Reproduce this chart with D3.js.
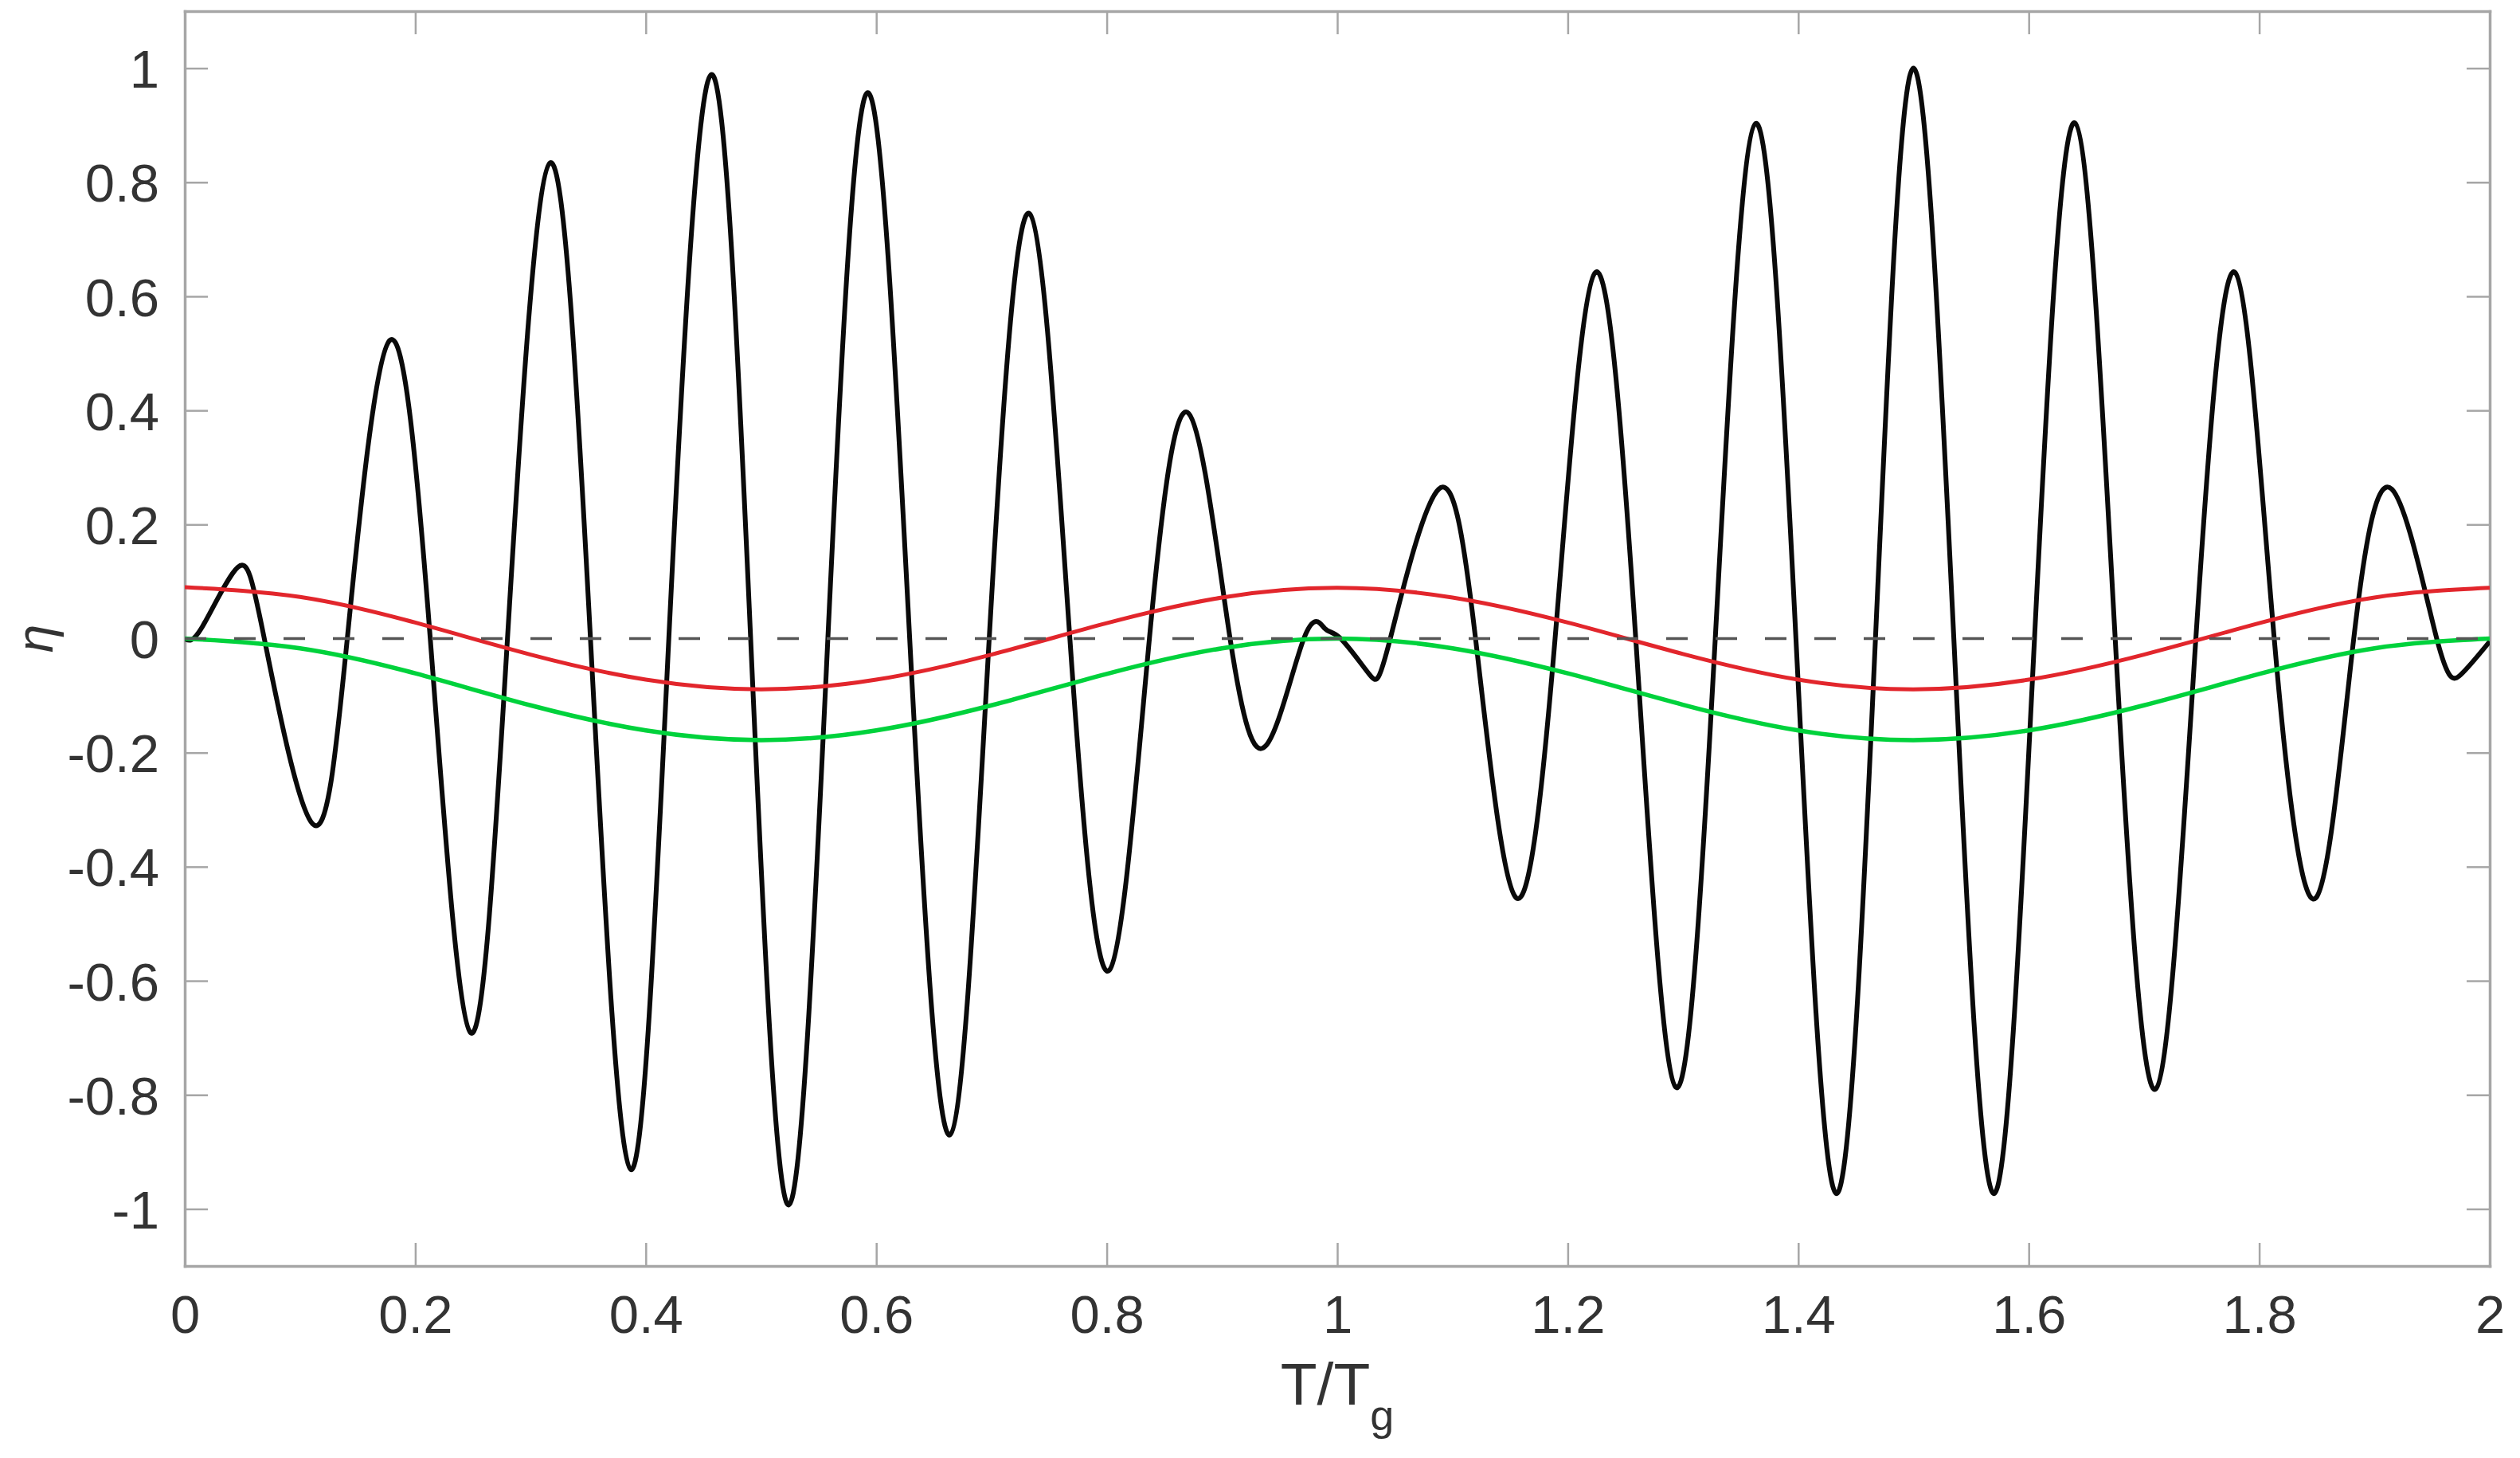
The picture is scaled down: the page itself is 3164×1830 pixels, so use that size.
<!DOCTYPE html>
<html>
<head>
<meta charset="utf-8">
<script src="https://cdn.jsdelivr.net/npm/d3@7"></script>
<style>
  html, body { margin: 0; padding: 0; background: #ffffff; }
  text { font-family: "Liberation Sans", Arial, Helvetica, sans-serif; }
</style>
</head>
<body>
<svg id="chart" width="3164" height="1830"></svg>
<script>
// ---------------- data ----------------
const xTicks = [0, 0.2, 0.4, 0.6, 0.8, 1, 1.2, 1.4, 1.6, 1.8, 2];
const yTicks = [-1, -0.8, -0.6, -0.4, -0.2, 0, 0.2, 0.4, 0.6, 0.8, 1];

// black curve: extrema and zero crossings (T/Tg, eta)
const blackT = [0, 0.015, 0.046, 0.069, 0.111, 0.141, 0.178, 0.213, 0.248, 0.280,
  0.317, 0.352, 0.387, 0.420, 0.457, 0.491, 0.524, 0.558, 0.593, 0.629,
  0.664, 0.698, 0.733, 0.768, 0.802, 0.837, 0.871, 0.907, 0.938, 0.971,
  0.989, 1.003, 1.028, 1.046, 1.088, 1.120, 1.155, 1.189, 1.224, 1.259,
  1.294, 1.328, 1.363, 1.398, 1.433, 1.467, 1.500, 1.535, 1.570, 1.605,
  1.640, 1.675, 1.710, 1.745, 1.779, 1.813, 1.849, 1.882, 1.915, 1.954,
  1.975, 2.0];
const blackEta = [0, 0.02, 0.125, 0, -0.325, 0, 0.523, 0, -0.691, 0,
  0.834, 0, -0.931, 0, 0.989, 0, -0.993, 0, 0.957, 0,
  -0.870, 0, 0.745, 0, -0.582, 0, 0.395, 0, -0.188, 0,
  0.018, 0, -0.063, 0, 0.262, 0, -0.454, 0, 0.642, 0,
  -0.787, 0, 0.903, 0, -0.973, 0, 1.0, 0, -0.973, 0,
  0.904, 0, -0.790, 0, 0.642, 0, -0.455, 0, 0.262, 0,
  -0.063, -0.005];

// red and green curves, read every 0.1
const envT = [0, 0.1, 0.2, 0.3, 0.4, 0.5, 0.6, 0.7, 0.8, 0.9, 1.0,
  1.1, 1.2, 1.3, 1.4, 1.5, 1.6, 1.7, 1.8, 1.9, 2.0];
const redEta = [0.090, 0.073, 0.028, -0.028, -0.072, -0.089, -0.072, -0.028, 0.027, 0.072, 0.089,
  0.072, 0.028, -0.027, -0.072, -0.089, -0.072, -0.028, 0.027, 0.072, 0.089];
const greenEta = [0, -0.017, -0.061, -0.117, -0.161, -0.178, -0.161, -0.117, -0.062, -0.017, 0,
  -0.017, -0.061, -0.116, -0.161, -0.178, -0.161, -0.117, -0.062, -0.017, 0];

const zeroT = [0, 2];
const zeroEta = [0, 0];

// ---------------- layout ----------------
const W = 3164, H = 1830;
const L = 232, R = 3126, T = 14, B = 1589;
const tickLen = 29;
const axisColor = "#a6a6a6";
const labelColor = "#333333";
const tickFont = 67;

const x = d3.scaleLinear().domain([0, 2]).range([L, R]);
const y = d3.scaleLinear().domain([-1.1, 1.1]).range([B, T]);

const svg = d3.select("#chart");
svg.append("rect").attr("width", W).attr("height", H).attr("fill", "#ffffff");

const fmt = d => String(+(+d).toFixed(1));

function styleAxis(g, withText) {
  g.select(".domain").attr("stroke", axisColor).attr("stroke-width", 3.5)
    .attr("stroke-linecap", "square");
  g.selectAll(".tick line").attr("stroke", axisColor).attr("stroke-width", 2.5);
  g.selectAll(".tick text")
    .attr("fill", labelColor)
    .attr("font-size", tickFont)
    .attr("font-family", '"Liberation Sans", Arial, Helvetica, sans-serif');
  if (!withText) g.selectAll(".tick text").remove();
}

// bottom
const gB = svg.append("g").attr("transform", `translate(0,${B})`)
  .call(d3.axisBottom(x).tickValues(xTicks).tickSizeInner(-tickLen).tickSizeOuter(0)
    .tickPadding(36).tickFormat(fmt));
styleAxis(gB, true);
gB.selectAll(".tick text").attr("dy", "0.71em");

// top
const gT = svg.append("g").attr("transform", `translate(0,${T})`)
  .call(d3.axisTop(x).tickValues(xTicks).tickSizeInner(-tickLen).tickSizeOuter(0).tickFormat(""));
styleAxis(gT, false);

// left
const gL = svg.append("g").attr("transform", `translate(${L},0)`)
  .call(d3.axisLeft(y).tickValues(yTicks).tickSizeInner(-tickLen).tickSizeOuter(0)
    .tickPadding(32).tickFormat(fmt));
styleAxis(gL, true);
gL.selectAll(".tick text").attr("dy", "0.36em");

// right
const gR = svg.append("g").attr("transform", `translate(${R},0)`)
  .call(d3.axisRight(y).tickValues(yTicks).tickSizeInner(-tickLen).tickSizeOuter(0).tickFormat(""));
styleAxis(gR, false);

// clip
svg.append("clipPath").attr("id", "plotClip")
  .append("rect").attr("x", L).attr("y", T).attr("width", R - L).attr("height", B - T);
const plot = svg.append("g").attr("clip-path", "url(#plotClip)");

function series(ts, vs) { return ts.map((t, i) => [t, vs[i]]); }

const smooth = d3.line().x(d => x(d[0])).y(d => y(d[1])).curve(d3.curveNatural);
const straight = d3.line().x(d => x(d[0])).y(d => y(d[1]));

plot.append("path").datum(series(blackT, blackEta))
  .attr("d", smooth).attr("fill", "none").attr("stroke", "#0a0a0a")
  .attr("stroke-width", 6).attr("stroke-linejoin", "round");

plot.append("path").datum(series(envT, redEta))
  .attr("d", smooth).attr("fill", "none").attr("stroke", "#e2262c")
  .attr("stroke-width", 5);

plot.append("path").datum(series(envT, greenEta))
  .attr("d", smooth).attr("fill", "none").attr("stroke", "#00d23c")
  .attr("stroke-width", 5.5);

plot.append("path").datum(series(zeroT, zeroEta))
  .attr("d", straight).attr("fill", "none").attr("stroke", "#555555")
  .attr("stroke-width", 3.5).attr("stroke-dasharray", "27,35");

// x label
const xl = svg.append("text")
  .attr("x", (L + R) / 2).attr("y", 1763)
  .attr("text-anchor", "middle").attr("fill", labelColor).attr("font-size", 75);
xl.append("tspan").text("T/T");
xl.append("tspan").attr("font-size", 54).attr("dy", 32).text("g");

// y label
svg.append("text")
  .attr("transform", `translate(66,${y(0)}) rotate(-90)`)
  .attr("text-anchor", "middle").attr("fill", labelColor)
  .attr("font-size", 64).attr("font-style", "italic").text("η");
</script>
</body>
</html>
